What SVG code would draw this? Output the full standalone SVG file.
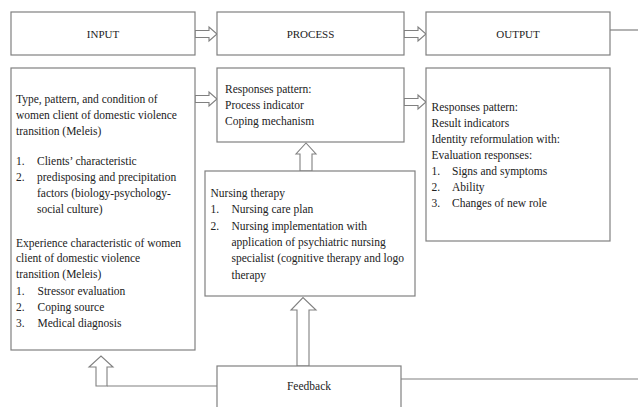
<svg xmlns="http://www.w3.org/2000/svg" width="638" height="407" viewBox="0 0 638 407">
<style>
.box{fill:#fff;stroke:#808080;stroke-width:1.2}
.arr{fill:#fff;stroke:#808080;stroke-width:1.1;stroke-linejoin:miter}
.ln{fill:none;stroke:#808080;stroke-width:1.2}
text{font-family:"Liberation Serif","Times New Roman",serif;font-size:11.5px;fill:#222}
.h{text-anchor:middle;font-size:11px}
</style>
<rect width="638" height="407" fill="#fff"/>
<g id="connectors">
<polygon class="arr" points="195,30.5 209,30.5 209,27 217,34 209,41 209,37.5 195,37.5"/>
<polygon class="arr" points="404,30.5 418,30.5 418,27 426,34 418,41 418,37.5 404,37.5"/>
<polygon class="arr" points="195,95.5 209,95.5 209,92 217,99 209,106 209,102.5 195,102.5"/>
<polygon class="arr" points="404,98.5 418,98.5 418,95 426,102 418,109 418,105.5 404,105.5"/>
<polygon class="arr" points="300,171 300,154 296,154 306,143 316,154 312,154 312,171"/>
<polygon class="arr" points="297,366 297,310 291,310 303,297.5 316,310 309,310 309,366"/>
<polygon class="arr" points="96,386 96,367 89,367 101,356 113,367 107,367 107,386"/>
<line class="ln" x1="107" y1="386" x2="217" y2="386"/>
<line class="ln" x1="401" y1="379" x2="638" y2="379"/>
<line class="ln" x1="610" y1="30" x2="638" y2="30"/>
</g>
<g id="input-header">
<rect class="box" x="11" y="12" width="184" height="43"/>
<text class="h" x="103" y="38">INPUT</text>
</g>
<g id="process-header">
<rect class="box" x="217" y="12" width="187" height="43"/>
<text class="h" x="310.5" y="38">PROCESS</text>
</g>
<g id="output-header">
<rect class="box" x="426" y="12" width="184" height="43"/>
<text class="h" x="518" y="38">OUTPUT</text>
</g>
<g id="input">
<rect class="box" x="11" y="68" width="184" height="282"/>
<text x="16" y="103">Type, pattern, and condition of</text>
<text x="16" y="119">women client of domestic violence</text>
<text x="16" y="135">transition (Meleis)</text>
<text x="16" y="165">1.</text><text x="37" y="165">Clients’ characteristic</text>
<text x="16" y="181">2.</text><text x="37" y="181">predisposing and precipitation</text>
<text x="37" y="197">factors (biology-psychology-</text>
<text x="37" y="213">social culture)</text>
<text x="16" y="247">Experience characteristic of women</text>
<text x="16" y="262">client of domestic violence</text>
<text x="16" y="278">transition (Meleis)</text>
<text x="16" y="295">1.</text><text x="37.5" y="295">Stressor evaluation</text>
<text x="16" y="311">2.</text><text x="37.5" y="311">Coping source</text>
<text x="16" y="327">3.</text><text x="37.5" y="327">Medical diagnosis</text>
</g>
<g id="process">
<rect class="box" x="217" y="68" width="187" height="74"/>
<text x="225" y="93">Responses pattern:</text>
<text x="225" y="109">Process indicator</text>
<text x="225" y="125">Coping mechanism</text>
</g>
<g id="output">
<rect class="box" x="426" y="68" width="184" height="173"/>
<text x="431.5" y="110.5">Responses pattern:</text>
<text x="431.5" y="126.5">Result indicators</text>
<text x="431.5" y="143">Identity reformulation with:</text>
<text x="431.5" y="159">Evaluation responses:</text>
<text x="431.5" y="175">1.</text><text x="452" y="175">Signs and symptoms</text>
<text x="431.5" y="191">2.</text><text x="452" y="191">Ability</text>
<text x="431.5" y="207">3.</text><text x="452" y="207">Changes of new role</text>
</g>
<g id="nursing-therapy">
<rect class="box" x="205" y="171" width="210" height="125"/>
<text x="210.5" y="197">Nursing therapy</text>
<text x="210.5" y="213">1.</text><text x="231.5" y="213">Nursing care plan</text>
<text x="210.5" y="229.5">2.</text><text x="231.5" y="229.5">Nursing implementation with</text>
<text x="231.5" y="246">application of psychiatric nursing</text>
<text x="231.5" y="262">specialist (cognitive therapy and logo</text>
<text x="231.5" y="278.5">therapy</text>
</g>
<g id="feedback">
<rect class="box" x="217" y="366" width="184" height="50"/>
<text class="h" x="309" y="390" style="font-size:11.5px">Feedback</text>
</g>
</svg>
